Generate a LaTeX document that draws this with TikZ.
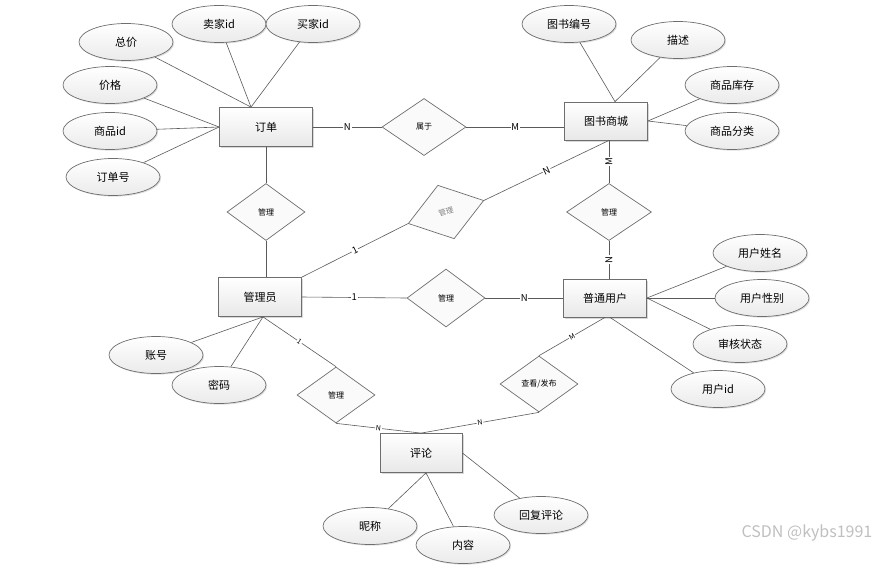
\documentclass[tikz,border=0pt]{standalone}
\usepackage{fontspec}
\setmainfont{Noto Sans CJK SC}
\usetikzlibrary{shapes.geometric,shadows,positioning}

\definecolor{edgegray}{HTML}{6E6E6E}
\definecolor{linegray}{HTML}{5A5A5A}
\tikzset{
  entity/.style={draw=edgegray, rectangle, line width=0.8pt, minimum width=83pt, minimum height=38pt,
    top color=white, bottom color=gray!18,
    drop shadow={shadow xshift=1.5pt, shadow yshift=-1.5pt, opacity=0.3},
    font=\fontsize{11}{13}\selectfont},
  attr/.style={draw=edgegray, ellipse, line width=0.7pt, inner sep=0pt, minimum width=94pt, minimum height=37pt,
    top color=white, bottom color=gray!16,
    drop shadow={shadow xshift=1.2pt, shadow yshift=-1.2pt, opacity=0.25},
    font=\fontsize{11}{13}\selectfont},
  rel/.style={draw=edgegray, diamond, line width=0.7pt, inner sep=0pt, minimum width=80pt, minimum height=57pt,
    fill=gray!4, font=\fontsize{8}{9}\selectfont},
  link/.style={draw=linegray, line width=0.6pt},
  card/.style={fill=white, inner sep=0.8pt, font=\fontsize{9.5}{10}\selectfont},
  smallcard/.style={card, font=\fontsize{7}{8}\selectfont},
}

\begin{document}
\begin{tikzpicture}[x=1pt, y=-1pt]
\useasboundingbox (0,0) rectangle (879,574);

% entities
\node[entity, minimum width=93pt, minimum height=39pt] (dingdan) at (266,127) {订单};
\node[entity] (shangcheng) at (606,121) {图书商城};
\node[entity, minimum height=39pt] (admin) at (260,297) {管理员};
\node[entity] (yonghu) at (605,298) {普通用户};
\node[entity, minimum width=82pt, minimum height=39pt] (pinglun) at (421,453) {评论};

% relations
\node[rel, minimum width=84pt] (shuyu) at (424,127) {属于};
\node[rel, minimum width=78pt] (gl-dd) at (266,212) {管理};
\node[rel, rotate=17, minimum width=79pt, minimum height=56pt, text=gray, font=\fontsize{7.5}{8}\selectfont] (gl-sc) at (446,212) {管理};
\node[rel, minimum width=85pt] (gl-yh) at (609,212) {管理};
\node[rel, minimum width=78pt, minimum height=58pt] (gl-mid) at (446,298) {管理};
\node[rel, minimum width=78pt, minimum height=56pt] (gl-pl) at (336,395) {管理};
\node[rel, minimum width=78pt, minimum height=56pt] (fabu) at (539,384) {查看/发布};

% attributes
\node[attr] (zongjia) at (126,42) {总价};
\node[attr] (maijia) at (219,24) {卖家id};
\node[attr] (buyer) at (313,24) {买家id};
\node[attr] (jiage) at (110,85) {价格};
\node[attr] (spid) at (110,131) {商品id};
\node[attr] (ddh) at (113,177) {订单号};
\node[attr] (tsbh) at (569,24) {图书编号};
\node[attr] (miaoshu) at (678,40) {描述};
\node[attr] (kucun) at (732,85) {商品库存};
\node[attr] (fenlei) at (732,131) {商品分类};
\node[attr] (xingming) at (760,253) {用户姓名};
\node[attr] (xingbie) at (762,298) {用户性别};
\node[attr] (shenhe) at (740,344) {审核状态};
\node[attr] (yhid) at (718,389) {用户id};
\node[attr] (zhanghao) at (156,355) {账号};
\node[attr] (mima) at (219,385) {密码};
\node[attr] (nicheng) at (370,526) {昵称};
\node[attr] (neirong) at (463,545) {内容};
\node[attr] (huifu) at (541,515) {回复评论};

\coordinate (sc-s) at (gl-yh.north |- shangcheng.south);

% attribute links
\draw[link] ([xshift=-15pt]dingdan.north) -- (zongjia);
\draw[link] ([xshift=-15pt]dingdan.north) -- (maijia);
\draw[link] ([xshift=-15pt]dingdan.north) -- (buyer);
\draw[link] (dingdan.west) -- (jiage);
\draw[link] (dingdan.west) -- (spid);
\draw[link] (dingdan.west) -- (ddh);
\draw[link] ([xshift=9pt]shangcheng.north) -- (tsbh);
\draw[link] ([xshift=9pt]shangcheng.north) -- (miaoshu);
\draw[link] (shangcheng.east) -- (kucun);
\draw[link] (shangcheng.east) -- (fenlei);
\draw[link] (yonghu.east) -- (xingming);
\draw[link] (yonghu.east) -- (xingbie);
\draw[link] (yonghu.east) -- (shenhe);
\draw[link] ([xshift=5pt]yonghu.south) -- (yhid);
\draw[link] ([xshift=3pt]admin.south) -- (zhanghao);
\draw[link] ([xshift=3pt]admin.south) -- (mima);
\draw[link] ([xshift=5pt]pinglun.south) -- (nicheng);
\draw[link] ([xshift=5pt]pinglun.south) -- (neirong);
\draw[link] (pinglun.east) -- (huifu);

% relation links
\draw[link] (dingdan.east) -- node[card]{N} (shuyu.west);
\draw[link] (shuyu.east) -- node[card]{M} (shuyu.east -| shangcheng.west);
\draw[link] (dingdan.south) -- (gl-dd.north);
\draw[link] (gl-dd.south) -- (gl-dd.south |- admin.north);
\draw[link] (admin.north east) -- node[card, sloped]{1} (gl-sc.west);
\draw[link] (gl-sc.east) -- node[card, sloped]{N} (sc-s);
\draw[link] (sc-s) -- node[card, rotate=90]{M} (gl-yh.north);
\draw[link] (gl-yh.south) -- node[card, rotate=90]{N} (gl-yh.south |- yonghu.north);
\draw[link] (admin.east) -- node[card]{1} (gl-mid.west);
\draw[link] (gl-mid.east) -- node[card]{N} (yonghu.west);
\draw[link] ([xshift=3pt]admin.south) -- node[smallcard, sloped]{1} (gl-pl.north);
\draw[link] (gl-pl.south) -- node[smallcard, sloped]{N} (pinglun.north);
\draw[link] (yonghu.south) -- node[smallcard, sloped]{M} (fabu.north);
\draw[link] (fabu.south) -- node[smallcard, sloped]{N} (pinglun.north);

\node[text=gray!50, font=\fontsize{16}{18}\selectfont] (mark) at (807,533) {CSDN @kybs1991};
\end{tikzpicture}
\end{document}
